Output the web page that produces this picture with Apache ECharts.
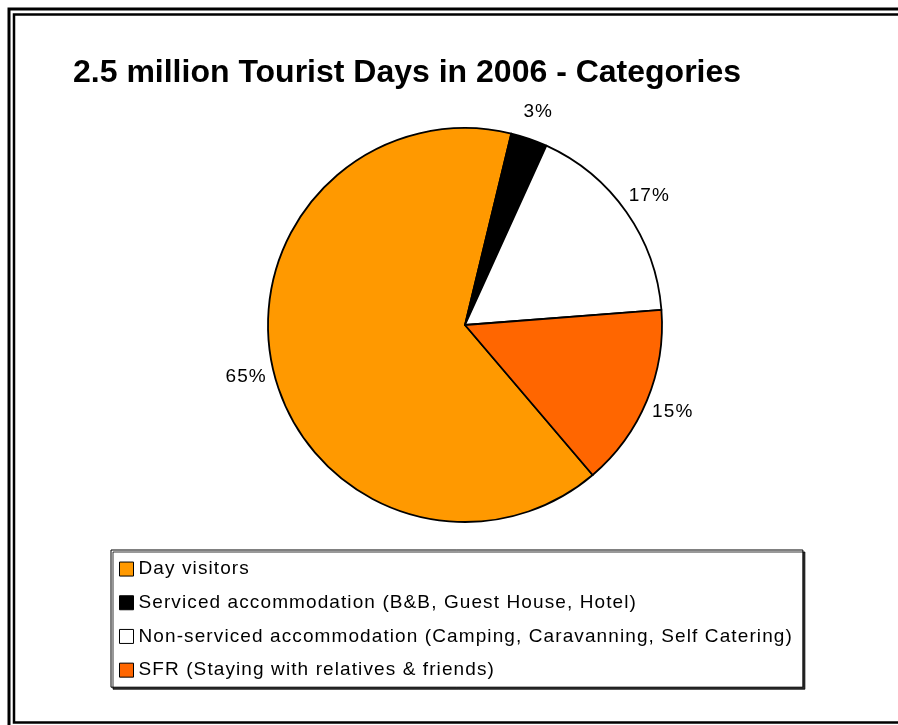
<!DOCTYPE html>
<html>
<head>
<meta charset="utf-8">
<script src="https://cdn.jsdelivr.net/npm/echarts@6/dist/echarts.min.js"></script>
<style>
  html, body { margin: 0; padding: 0; background: #fff; }
  #chart { width: 898px; height: 725px; }
</style>
</head>
<body>
<div id="chart"></div>
<script>
// Tourist day categories, 2006
const categories = [
  'Day visitors',
  'Serviced accommodation (B&B, Guest House, Hotel)',
  'Non-serviced accommodation (Camping, Caravanning, Self Catering)',
  'SFR (Staying with relatives & friends)'
];
const shares = [65, 3, 17, 15];
const sliceColors = ['#FF9900', '#000000', '#FFFFFF', '#FF6600'];
const titleText = '2.5 million Tourist Days in 2006 - Categories';

const FONT = '"Liberation Sans", Arial, sans-serif';
const CX = 465, CY = 325, R = 197;
const START = -49.6;

// Regular-weight text is drawn slightly tracked out; bold title text is not.
(function () {
  const proto = CanvasRenderingContext2D.prototype;
  if (!('letterSpacing' in proto)) return;
  const track = ctx => { ctx.letterSpacing = /bold|700/.test(ctx.font) ? '0px' : '1.1px'; };
  ['fillText', 'strokeText', 'measureText'].forEach(fn => {
    const orig = proto[fn];
    proto[fn] = function () { track(this); return orig.apply(this, arguments); };
  });
})();

const pieData = categories.map((name, i) => ({
  name, value: shares[i], itemStyle: { color: sliceColors[i] }
}));

const chart = echarts.init(document.getElementById('chart'), null, { renderer: 'canvas' });
chart.setOption({
  backgroundColor: '#ffffff',
  animation: false,
  title: {
    text: titleText,
    left: 68, top: 52,
    textStyle: { fontFamily: FONT, fontWeight: 'bold', fontSize: 32, color: '#000' }
  },
  legend: {
    orient: 'vertical',
    left: 111, top: 550,
    data: categories,
    icon: 'rect',
    itemWidth: 14, itemHeight: 14,
    itemGap: 13.6,
    padding: [9, 10, 7, 8],
    borderColor: '#000', borderWidth: 1,
    backgroundColor: '#fff',
    shadowColor: 'rgba(0,0,0,0.8)', shadowOffsetX: 2, shadowOffsetY: 2, shadowBlur: 0,
    selectedMode: false,
    itemStyle: { borderColor: '#000', borderWidth: 1 },
    textStyle: { fontFamily: FONT, fontSize: 19, color: '#000' }
  },
  series: [
    {
      type: 'pie',
      center: [CX, CY],
      radius: R,
      startAngle: START,
      clockwise: true,
      avoidLabelOverlap: false,
      silent: true,
      label: { show: false },
      labelLine: { show: false },
      itemStyle: { borderColor: '#000', borderWidth: 1.8 },
      data: pieData
    },
    {
      // transparent ring carrying the percentage labels just outside the pie
      type: 'pie',
      center: [CX, CY],
      radius: [212, 232],
      startAngle: START,
      clockwise: true,
      avoidLabelOverlap: false,
      silent: true,
      itemStyle: { color: 'rgba(0,0,0,0)', borderWidth: 0 },
      label: {
        show: true,
        position: 'inside',
        formatter: p => p.value + '%',
        fontFamily: FONT, fontSize: 19, color: '#000'
      },
      labelLine: { show: false },
      data: categories.map((name, i) => ({ name, value: shares[i] }))
    }
  ],
  graphic: [
    { type: 'rect', shape: { x: 9, y: 9, width: 900, height: 730 },
      style: { fill: null, stroke: '#000', lineWidth: 3 } },
    { type: 'rect', shape: { x: 14, y: 14.5, width: 900, height: 708 },
      style: { fill: null, stroke: '#000', lineWidth: 2.5 } }
  ]
});
</script>
</body>
</html>
